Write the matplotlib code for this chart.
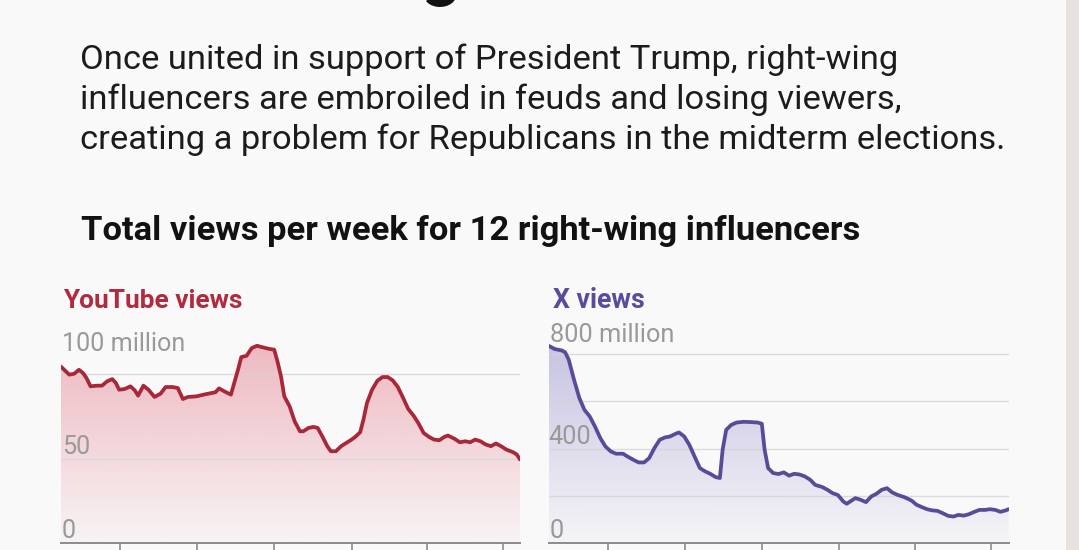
import numpy as np
import matplotlib
matplotlib.use("Agg")
import matplotlib.pyplot as plt
from matplotlib.colors import to_rgb
from matplotlib.patches import Polygon, Rectangle

# ---------------- data ----------------
headline = "Is Fracturing"
subtitle_lines = [
    "Once united in support of President Trump, right-wing",
    "influencers are embroiled in feuds and losing viewers,",
    "creating a problem for Republicans in the midterm elections.",
]
chart_title = "Total views per week for 12 right-wing influencers"

yt_title = "YouTube views"
yt_days = [0, 2.0, 3.4, 5.4, 7.2, 8.8, 10.2, 11.8, 14.3, 16.3,
           18.4, 20.4, 21.8, 23.1, 25.2, 27.6, 29.3, 30.6, 32.7, 34.7,
           37.1, 39.5, 41.5, 44.2, 46.3, 48.3, 50.3, 53.7, 57.8, 61.2,
           62.6, 64.6, 67.3, 70.1, 71.4, 73.5, 75.5, 77.6, 79.6, 82.3,
           84.4, 85.7, 87.1, 88.4, 90.5, 92.5, 94.6, 95.9, 98.0, 100.0,
           101.6, 103.4, 105.4, 106.8, 108.8, 110.9, 112.9, 115.0, 116.3, 118.4,
           119.7, 121.1, 123.1, 125.2, 127.2, 129.3, 131.3, 133.3, 135.4, 137.4,
           139.5, 141.5, 143.5, 145.6, 147.6, 149.7, 151.7, 153.1, 155.8, 157.8,
           159.9, 161.9, 163.9, 166.0, 168.0, 170.1, 172.1, 174.1, 176.2, 178.9,
           180.3, 181.6]
yt_views = [104.5, 101.6, 99.6, 100.2, 102.5, 100.6, 97.6, 92.7, 93.1, 93.1,
            95.7, 97.0, 94.7, 90.7, 91.1, 92.7, 90.3, 87.2, 93.1, 90.7,
            86.4, 88.4, 92.3, 92.3, 91.7, 85.2, 86.4, 86.8, 88.2, 89.2,
            91.5, 89.8, 87.8, 102.5, 110.0, 110.8, 115.3, 116.7, 115.9, 114.9,
            114.4, 107.5, 98.6, 86.8, 80.9, 72.0, 66.1, 66.1, 68.1, 68.7,
            68.1, 63.2, 57.3, 54.3, 54.3, 57.3, 59.2, 61.2, 62.6, 65.5,
            73.0, 82.9, 90.7, 96.0, 98.2, 98.2, 96.2, 92.3, 85.8, 79.3,
            75.4, 70.7, 65.1, 62.8, 61.2, 60.8, 62.8, 63.6, 61.6, 59.6,
            60.2, 59.6, 61.2, 60.2, 58.3, 57.3, 58.9, 57.3, 55.3, 53.7,
            52.4, 49.4]
yt_grid = [50, 100]
yt_tick_values = [0, 50, 100]
yt_tick_labels = ["0", "50", "100 million"]

x_title = "X views"
x_days = [0, 2.5, 5.3, 6.6, 8.0, 10.1, 12.2, 14.2, 16.3, 18.4,
          20.5, 22.5, 24.6, 26.7, 29.5, 30.8, 33.6, 35.7, 37.8, 39.8,
          41.9, 44.0, 46.1, 48.1, 50.2, 51.6, 53.7, 55.7, 57.8, 59.9,
          62.0, 64.0, 66.1, 67.8, 68.9, 70.3, 72.3, 74.4, 77.2, 79.9,
          82.7, 84.4, 85.5, 86.9, 88.9, 91.0, 93.1, 95.2, 97.2, 99.3,
          101.4, 103.5, 105.5, 108.3, 110.4, 112.4, 114.5, 116.6, 118.0, 119.4,
          121.4, 123.5, 125.6, 127.7, 129.7, 131.8, 133.9, 136.0, 138.0, 140.8,
          143.6, 145.6, 147.7, 149.8, 151.9, 153.9, 156.0, 158.1, 160.2, 162.2,
          164.3, 166.4, 168.5, 170.5, 172.6, 174.7, 176.8, 178.8, 180.9, 182.0]
x_views = [835, 821, 815, 807, 776, 691, 614, 564, 536, 493,
           444, 409, 388, 378, 378, 369, 352, 341, 341, 359,
           402, 437, 447, 451, 462, 468, 451, 416, 366, 317,
           303, 293, 279, 275, 395, 479, 500, 510, 513, 512,
           510, 505, 395, 317, 296, 292, 299, 285, 293, 290,
           282, 268, 246, 237, 225, 211, 203, 176, 166, 176,
           190, 183, 173, 197, 208, 225, 232, 214, 204, 194,
           180, 162, 152, 143, 138, 136, 126, 115, 112, 119,
           116, 122, 132, 140, 140, 143, 140, 132, 138, 143]
x_grid = [200, 400, 600, 800]
x_tick_values = [0, 400, 800]
x_tick_labels = ["0", "400", "800 million"]

month_ticks = [23.6, 54.0, 84.5, 115.0, 145.0, 175.0]

# ---------------- styling ----------------
W, H = 1079, 550
BG = "#f9f9f9"
FONT = ["Roboto", "DejaVu Sans"]
plt.rcParams["font.family"] = FONT

fig = plt.figure(figsize=(W / 100, H / 100), dpi=100, facecolor=BG)
renderer = fig.canvas.get_renderer()


def fy(y):
    return 1 - y / H


def fit(t, target_w):
    bb = t.get_window_extent(renderer=renderer)
    t.set_fontsize(t.get_fontsize() * target_w / bb.width)
    return t


# right grey strip
fig.patches.append(Rectangle((1066 / W, 0), (W - 1066) / W, 1, transform=fig.transFigure,
                             facecolor="#e6e3df", edgecolor="none", zorder=0))

# headline (cut off at top)
t = fig.text(73 / W, fy(-7), headline, fontsize=40, fontweight="bold", color="#121212",
             va="baseline", ha="left")
fit(t, 387)

sub_baselines = [68.5, 109.5, 149.5]
sub_objs = []
for line, yb in zip(subtitle_lines, sub_baselines):
    sub_objs.append(fig.text(80 / W, fy(yb), line, fontsize=22, color="#1c1c1c",
                             va="baseline", ha="left"))
fit(sub_objs[2], 923)
for s in sub_objs[:2]:
    s.set_fontsize(sub_objs[2].get_fontsize())

t = fig.text(81 / W, fy(240), chart_title, fontsize=20, fontweight="bold", color="#121212",
             va="baseline", ha="left")
fit(t, 775)


def gradient_fill(ax, xs, ys, color, top_alpha, bot_alpha):
    verts = [(xs[0], 0)] + list(zip(xs, ys)) + [(xs[-1], 0)]
    poly = Polygon(verts, closed=True, facecolor="none", edgecolor="none")
    ax.add_patch(poly)
    n = 256
    arr = np.zeros((n, 1, 4))
    arr[:, 0, :3] = to_rgb(color)
    arr[:, 0, 3] = np.linspace(top_alpha, bot_alpha, n)
    im = ax.imshow(arr, aspect="auto", extent=[xs[0], xs[-1], 0, max(ys)],
                   origin="upper", zorder=1, interpolation="bilinear")
    im.set_clip_path(poly)


def panel(rect, xs, ys, xmax, ymax, grid, tvals, tlabels, label_offsets,
          line_color, fill_color, title, title_color, title_x, title_w, label_w):
    ax = fig.add_axes(rect)
    ax.set_facecolor("none")
    gradient_fill(ax, xs, ys, fill_color, 0.45, 0.04)
    for g in grid:
        ax.axhline(g, color="#d4d4d4", lw=1.0, alpha=0.8, zorder=2)
    ax.plot(xs, ys, color=line_color, lw=2.7, solid_joinstyle="round",
            solid_capstyle="round", zorder=4)
    ax.set_xlim(0, xmax)
    ax.set_ylim(0, ymax)
    for s in ["top", "right", "left"]:
        ax.spines[s].set_visible(False)
    ax.spines["bottom"].set_color("#8c8c8c")
    ax.spines["bottom"].set_linewidth(1.4)
    ax.set_xticks(month_ticks)
    ax.set_xticklabels([])
    ax.set_yticks([])
    ax.tick_params(axis="x", direction="out", length=6, width=1.2, color="#8c8c8c")
    objs = []
    for v, lab, off in zip(tvals, tlabels, label_offsets):
        a = ax.annotate(lab, xy=(0, v), xycoords=("axes fraction", "data"),
                        xytext=(off[0], off[1]), textcoords="offset pixels",
                        fontsize=15, color="#999999", va="baseline", ha="left", zorder=3)
        objs.append(a)
    fit(objs[-1], label_w)
    for o in objs[:-1]:
        o.set_fontsize(objs[-1].get_fontsize())
    tt = fig.text(title_x / W, fy(308.5), title, fontsize=15, fontweight="bold",
                  color=title_color, va="baseline", ha="left")
    fit(tt, title_w)
    return ax


# left panel: 0 at y=543px, 1.69 px per million
panel([60.7 / W, 7 / H, 459.3 / W, 219.7 / H], yt_days, yt_views, 181.6, 130,
      yt_grid, yt_tick_values, yt_tick_labels, [(1, 4.5), (1, 4), (1, 23)],
      "#a8283a", "#e06a7c", yt_title, "#b22a3e", 63, 180, 123)

# right panel: 0 at y=543px, 0.23625 px per million
panel([548.5 / W, 7 / H, 460 / W, 219.7 / H], x_days, x_views, 182, 930,
      x_grid, x_tick_values, x_tick_labels, [(1, 4.5), (0, 5), (1, 12)],
      "#5a4a98", "#8a82c6", x_title, "#5b4b9c", 553, 92, 124)

fig.savefig("out.png", dpi=100, facecolor=BG)
